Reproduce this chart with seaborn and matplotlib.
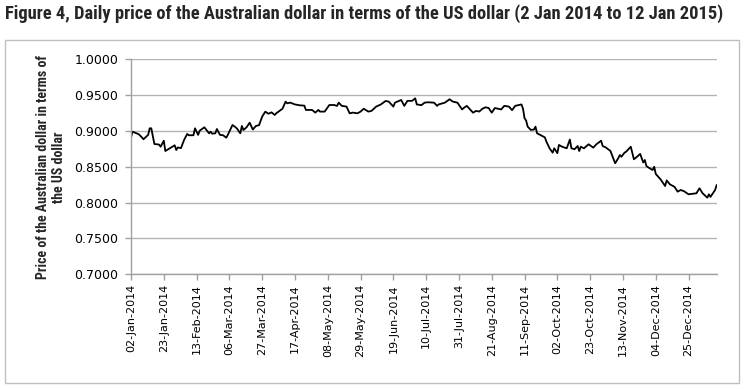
import pandas as pd
import numpy as np
import matplotlib
matplotlib.use("Agg")
import matplotlib.pyplot as plt
import matplotlib.dates as mdates
import seaborn as sns
from matplotlib import font_manager
from matplotlib.patches import Rectangle

# daily AUD/USD
dates = [
    "2014-01-02", "2014-01-03", "2014-01-07", "2014-01-09", "2014-01-10", "2014-01-13",
    "2014-01-14", "2014-01-15", "2014-01-17", "2014-01-20", "2014-01-21", "2014-01-23",
    "2014-01-24", "2014-01-27", "2014-01-30", "2014-01-31", "2014-02-01", "2014-02-03",
    "2014-02-05", "2014-02-07", "2014-02-08", "2014-02-11", "2014-02-12", "2014-02-14",
    "2014-02-15", "2014-02-18", "2014-02-21", "2014-02-22", "2014-02-23", "2014-02-25",
    "2014-02-26", "2014-02-28", "2014-03-02", "2014-03-04", "2014-03-05", "2014-03-08",
    "2014-03-10", "2014-03-11", "2014-03-13", "2014-03-14", "2014-03-15", "2014-03-17",
    "2014-03-19", "2014-03-21", "2014-03-23", "2014-03-25", "2014-03-27", "2014-03-29",
    "2014-03-31", "2014-04-02", "2014-04-04", "2014-04-05", "2014-04-08", "2014-04-09",
    "2014-04-11", "2014-04-12", "2014-04-14", "2014-04-17", "2014-04-20", "2014-04-23",
    "2014-04-24", "2014-04-28", "2014-04-30", "2014-05-02", "2014-05-03", "2014-05-06",
    "2014-05-09", "2014-05-12", "2014-05-14", "2014-05-15", "2014-05-17", "2014-05-20",
    "2014-05-22", "2014-05-24", "2014-05-27", "2014-05-29", "2014-05-31", "2014-06-03",
    "2014-06-05", "2014-06-08", "2014-06-11", "2014-06-14", "2014-06-16", "2014-06-19",
    "2014-06-20", "2014-06-24", "2014-06-26", "2014-06-28", "2014-07-01", "2014-07-03",
    "2014-07-04", "2014-07-07", "2014-07-09", "2014-07-11", "2014-07-15", "2014-07-17",
    "2014-07-18", "2014-07-22", "2014-07-25", "2014-07-27", "2014-07-30", "2014-08-02",
    "2014-08-03", "2014-08-05", "2014-08-09", "2014-08-11", "2014-08-13", "2014-08-15",
    "2014-08-17", "2014-08-19", "2014-08-21", "2014-08-23", "2014-08-25", "2014-08-27",
    "2014-08-29", "2014-09-01", "2014-09-03", "2014-09-05", "2014-09-09", "2014-09-10",
    "2014-09-11", "2014-09-12", "2014-09-13", "2014-09-15", "2014-09-17", "2014-09-18",
    "2014-09-19", "2014-09-21", "2014-09-24", "2014-09-25", "2014-09-27", "2014-09-29",
    "2014-09-30", "2014-10-02", "2014-10-03", "2014-10-05", "2014-10-08", "2014-10-10",
    "2014-10-11", "2014-10-13", "2014-10-15", "2014-10-16", "2014-10-17", "2014-10-19",
    "2014-10-22", "2014-10-25", "2014-10-27", "2014-10-30", "2014-10-31", "2014-11-02",
    "2014-11-05", "2014-11-08", "2014-11-10", "2014-11-11", "2014-11-12", "2014-11-14",
    "2014-11-15", "2014-11-18", "2014-11-20", "2014-11-22", "2014-11-24", "2014-11-26",
    "2014-11-27", "2014-11-28", "2014-11-30", "2014-12-02", "2014-12-03", "2014-12-04",
    "2014-12-07", "2014-12-10", "2014-12-11", "2014-12-13", "2014-12-16", "2014-12-18",
    "2014-12-20", "2014-12-22", "2014-12-25", "2014-12-30", "2015-01-01", "2015-01-03",
    "2015-01-06", "2015-01-07", "2015-01-08", "2015-01-11", "2015-01-12",
]
prices = [
    0.8906, 0.8990, 0.8954, 0.8910, 0.8884, 0.8945,
    0.9037, 0.9037, 0.8818, 0.8810, 0.8780, 0.8864,
    0.8720, 0.8760, 0.8800, 0.8734, 0.8770, 0.8760,
    0.8874, 0.8958, 0.8940, 0.8940, 0.9037, 0.8945,
    0.9004, 0.9051, 0.8967, 0.8990, 0.8962, 0.8967,
    0.9027, 0.8945, 0.8940, 0.8906, 0.8945, 0.9083,
    0.9051, 0.9030, 0.8967, 0.9070, 0.9013, 0.9051,
    0.9115, 0.9020, 0.9070, 0.9080, 0.9200, 0.9269,
    0.9240, 0.9260, 0.9223, 0.9246, 0.9293, 0.9310,
    0.9409, 0.9386, 0.9395, 0.9370, 0.9358, 0.9353,
    0.9293, 0.9293, 0.9256, 0.9293, 0.9270, 0.9270,
    0.9362, 0.9362, 0.9350, 0.9395, 0.9350, 0.9340,
    0.9246, 0.9256, 0.9246, 0.9270, 0.9310, 0.9270,
    0.9280, 0.9340, 0.9370, 0.9418, 0.9410, 0.9340,
    0.9395, 0.9432, 0.9350, 0.9420, 0.9420, 0.9455,
    0.9370, 0.9360, 0.9395, 0.9400, 0.9395, 0.9350,
    0.9370, 0.9395, 0.9442, 0.9410, 0.9395, 0.9300,
    0.9320, 0.9350, 0.9255, 0.9280, 0.9270, 0.9310,
    0.9330, 0.9320, 0.9255, 0.9320, 0.9310, 0.9300,
    0.9350, 0.9340, 0.9290, 0.9350, 0.9370, 0.9310,
    0.9177, 0.9145, 0.9060, 0.9014, 0.9020, 0.9060,
    0.8967, 0.8945, 0.8910, 0.8850, 0.8758, 0.8697,
    0.8758, 0.8690, 0.8805, 0.8780, 0.8758, 0.8880,
    0.8758, 0.8745, 0.8790, 0.8720, 0.8780, 0.8758,
    0.8814, 0.8767, 0.8814, 0.8864, 0.8790, 0.8770,
    0.8720, 0.8549, 0.8620, 0.8665, 0.8640, 0.8697,
    0.8710, 0.8780, 0.8605, 0.8640, 0.8680, 0.8560,
    0.8595, 0.8511, 0.8480, 0.8455, 0.8500, 0.8400,
    0.8326, 0.8232, 0.8310, 0.8256, 0.8220, 0.8153,
    0.8176, 0.8160, 0.8116, 0.8130, 0.8200, 0.8130,
    0.8069, 0.8116, 0.8080, 0.8176, 0.8246,
]
y_ticks = [0.70, 0.75, 0.80, 0.85, 0.90, 0.95, 1.00]

title = "Figure 4, Daily price of the Australian dollar in terms of the US dollar (2 Jan 2014 to 12 Jan 2015)"
ylab = "Price of the Australian dollar in terms of\nthe US dollar"

df = pd.DataFrame({"date": pd.to_datetime(dates), "price": prices})

installed = {f.name for f in font_manager.fontManager.ttflist}
narrow = "Roboto"
for cand in ["Liberation Sans Narrow", "Roboto Condensed", "Open Sans Condensed"]:
    if cand in installed:
        narrow = cand
        break

sns.set_theme(style="white")
plt.rcParams["font.family"] = ["DejaVu Sans"]

fig = plt.figure(figsize=(7.54, 3.89), dpi=100)
ax = fig.add_axes([0.1737, 0.2949, 0.9505 - 0.1737, 0.8476 - 0.2949])

sns.lineplot(data=df, x="date", y="price", color="black", linewidth=1.3, ax=ax)

ax.set_xlim(pd.Timestamp("2014-01-02"), pd.Timestamp("2015-01-12"))
ax.set_ylim(0.70, 1.00)
ax.set_yticks(y_ticks)
ax.yaxis.set_major_formatter(matplotlib.ticker.FormatStrFormatter("%.4f"))
xt = pd.date_range("2014-01-02", "2014-12-25", freq="21D")
ax.set_xticks(xt)
ax.xaxis.set_major_formatter(mdates.DateFormatter("%d-%b-%Y"))

ax.grid(axis="y", color="#B3B3B3", linewidth=1.0)
ax.set_axisbelow(True)
for s in ["top", "right"]:
    ax.spines[s].set_visible(False)
for s in ["left", "bottom"]:
    ax.spines[s].set_color("#A0A0A0")
    ax.spines[s].set_linewidth(1.0)

ax.tick_params(axis="y", left=True, length=4, width=1, color="#A0A0A0",
               labelsize=9, labelcolor="black", pad=5)
ax.tick_params(axis="x", bottom=True, length=4, width=1, color="#A0A0A0",
               labelsize=8, labelcolor="black", labelrotation=90, pad=3)

ax.set_xlabel("")
ax.set_ylabel(ylab, fontsize=10, fontweight="bold", family=[narrow, "DejaVu Sans"],
              linespacing=1.15, labelpad=6)

fig.text(0.007, 1 - 14 / 389, title, fontsize=13.3, fontweight="bold",
         family=[narrow, "DejaVu Sans"], va="center", ha="left")

fig.patches.append(Rectangle((5 / 754, 1 - 383 / 389), 734 / 754, 343 / 389,
                             transform=fig.transFigure, fill=False,
                             edgecolor="#BFBFBF", linewidth=1.0))

fig.savefig("out.png", dpi=100)
